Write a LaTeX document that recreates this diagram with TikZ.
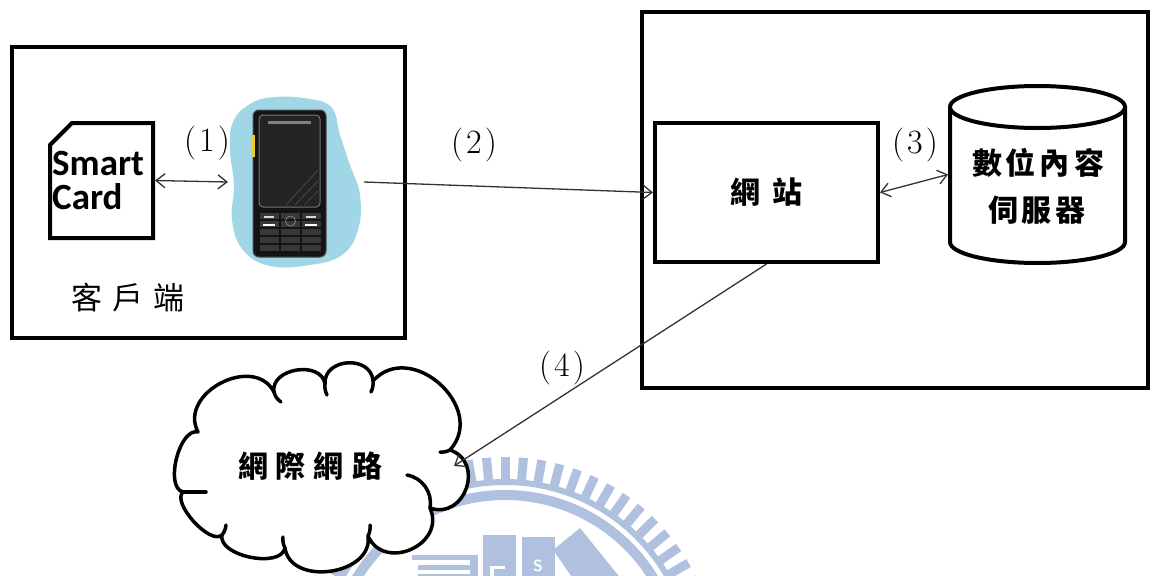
\documentclass[tikz,border=0pt]{standalone}
\usepackage{fontspec}
\newfontfamily\cjk{Noto Sans CJK TC}
\newfontfamily\cardfont{Carlito}
\usetikzlibrary{arrows.meta,calc}

\definecolor{blobblue}{RGB}{160,214,230}
\definecolor{seal}{RGB}{176,193,224}

\begin{document}
\begin{tikzpicture}[x=1pt,y=-1pt,
  frame/.style={draw=black, line width=4pt},
  link/.style={draw=black!80, line width=1.3pt},
  onetip/.style={-{Straight Barb[length=9pt,width=14pt]}},
  twotip/.style={{Straight Barb[length=9pt,width=14pt]}-{Straight Barb[length=9pt,width=14pt]}},
  num/.style={inner sep=0, font=\fontsize{34}{34}\selectfont},
  zh/.style={inner sep=0, font=\cjk\fontsize{31}{31}\selectfont},
  zhb/.style={inner sep=0, font=\cjk\bfseries\fontsize{30}{30}\selectfont},
  hole/.style={draw=none, inner sep=0, outer sep=2pt},
  curl/.style={line width=3.5pt, line cap=round},
  cardtext/.style={anchor=base west, inner sep=0, font=\cardfont\bfseries\fontsize{37}{37}\selectfont}
]
\useasboundingbox (0,0) rectangle (1163,576);
\fill[white] (0,0) rectangle (1163,576);
\clip (0,0) rectangle (1163,576);

% faint emblem at the bottom
\foreach \a in {15,20,...,165}
  \draw[draw=seal, line width=9pt]
    ({505+189*cos(\a)},{669-189*sin(\a)}) -- ({505+212*cos(\a)},{669-212*sin(\a)});
\draw[draw=seal, line width=6pt] (505,669) circle[radius=187];
\draw[draw=seal, line width=10pt] (505,669) circle[radius=174];
\fill[seal] (412,555) rectangle (478,560);
\fill[seal] (418,565) rectangle (472,570);
\fill[seal] (418,574) rectangle (472,580);
\fill[seal] (470,555) rectangle (478,580);
\fill[seal] (483,535) rectangle (516,580);
\fill[seal] (522,537) rectangle (555,580);
\fill[seal] (553,550) -- (580,528) -- (622,580) -- (574,580) -- cycle;
\fill[white] (490,566) rectangle (494,580);
\fill[white] (490,566) rectangle (505,569);
\node[text=white, inner sep=0, font=\sffamily\bfseries\fontsize{16}{16}\selectfont] (sealS) at (538,566) {S};

% client side
\node[frame, minimum width=393, minimum height=291] (client) at (208.5,192.5) {};

% smart card
\node[hole, minimum width=103, minimum height=115] (card) at (101.5,180.5) {};
\draw[frame, line join=miter]
  ($(card.north west)+(2,24)$) -- ($(card.north west)+(24,2)$) -- ($(card.north east)+(-2,2)$)
  -- ($(card.south east)+(-2,-2)$) -- ($(card.south west)+(2,-2)$) -- cycle;
\node[cardtext] (smart) at (52,175) {Smart};
\node[cardtext] (cardword) at (52,209) {Card};

% mobile phone on a blue blob
\fill[blobblue] plot[smooth cycle, tension=0.7] coordinates {
  (233,122) (250,104) (275,97) (310,99) (332,108) (340,135) (350,165) (360,195)
  (358,230) (342,255) (310,265) (270,266) (243,250) (232,220) (234,185) (230,150)};
\node[hole, minimum width=132, minimum height=168] (blob) at (296,182) {};
\node[fill=black!92, draw=black!70, line width=1pt, rounded corners=6pt,
      minimum width=73, minimum height=147, inner sep=0] (phone) at (289.5,183.5) {};
\fill[yellow!65!brown] (251.5,135) rectangle (255,157);
\filldraw[fill=black!86, draw=black!55, line width=1pt, rounded corners=4pt] (259,115) rectangle (320,207);
\fill[black!50] (268,121) rectangle (311,124);
\draw[black!68, line width=0.6pt] (286,205) -- (318,170) (295,205) -- (318,181) (304,205) -- (318,191);
\foreach \r in {212,220,228,236,244}
  \foreach \c in {259,280,301}
    \fill[black!78] (\c+0.5,\r+0.5) rectangle (\c+20,\r+7.2);
\fill[black!15] (264,215.5) rectangle (274,217.5);
\fill[white] (263,223.5) rectangle (275,226);
\fill[black!15] (306,215.5) rectangle (316,217.5);
\fill[white] (305,223.5) rectangle (317,226);
\draw[black!50, line width=0.8pt] (290.5,221) circle[radius=5];

\node[zh] (clientlabel) at (128,298) {客\hspace{10pt}戶\hspace{10pt}端};

% server side
\node[frame, minimum width=506, minimum height=376] (site) at (895,200) {};
\node[frame, minimum width=223, minimum height=139, zhb] (web) at (766.5,192.5) {網\hspace{13pt}站};

% content server cylinder
\node[hole, minimum width=175, minimum height=177] (db) at (1037.5,174.5) {};
\draw[frame, fill=white] (950,107) -- (950,242)
  arc[start angle=180, end angle=0, x radius=87.5, y radius=21] -- (1125,107);
\draw[frame, fill=white] (1037.5,107) ellipse[x radius=87.5, y radius=21];
\node[zhb] (dbline1) at (1038,163) {數\hspace{4pt}位\hspace{4pt}內\hspace{4pt}容};
\node[zhb] (dbline2) at (1037,210) {伺\hspace{4pt}服\hspace{4pt}器};

% internet cloud
\draw[line width=3.5pt, fill=white, line join=round]
  (198,432) to[bend left=90, looseness=1.3] (274,392)
  to[bend left=90, looseness=1.2] (325,384)
  to[bend left=90, looseness=1.4] (373,381)
  to[bend left=90, looseness=1.4] (450,450)
  to[bend left=90, looseness=1.55] (430,508)
  to[bend left=90, looseness=1.5] (368,536)
  to[bend left=90, looseness=1.2] (285,548)
  to[bend left=90, looseness=0.85] (222,535)
  to[bend left=90, looseness=0.7] (183,492)
  to[bend left=90, looseness=0.8] (198,432) -- cycle;
\draw[curl] (274,392) to[bend right=20] (281,402);
\draw[curl] (325,384) to[bend right=15] (327,395);
\draw[curl] (373,381) to[bend left=15] (371,392);
\draw[curl] (450,450) to[bend left=15] (440,452);
\draw[curl] (430,508) to[bend right=45] (407,475);
\draw[curl] (368,536) to[bend right=15] (370,525);
\draw[curl] (285,548) to[bend left=15] (283,537);
\draw[curl] (222,535) to[bend right=15] (226,525);
\draw[curl] (183,492) -- (206,492);
\node[hole, minimum width=284, minimum height=200, zhb] (net) at (310,466)
  {網\hspace{8pt}際\hspace{8pt}網\hspace{8pt}路};

% connectors
\draw[link, twotip] (card.east) -- (blob.west);
\draw[link, onetip] (blob.east) -- (web.west);
\draw[link, twotip] (web.east) -- (db.west);
\draw[link, onetip] (web.south) -- (net.east);

\node[num] (n1) at (207,143) {(\kern3pt1\kern3pt)};
\node[num] (n2) at (474,145) {(\kern3pt2\kern3pt)};
\node[num] (n3) at (915,145) {(\kern3pt3\kern3pt)};
\node[num] (n4) at (562,368) {(\kern3pt4\kern3pt)};
\end{tikzpicture}
\end{document}
